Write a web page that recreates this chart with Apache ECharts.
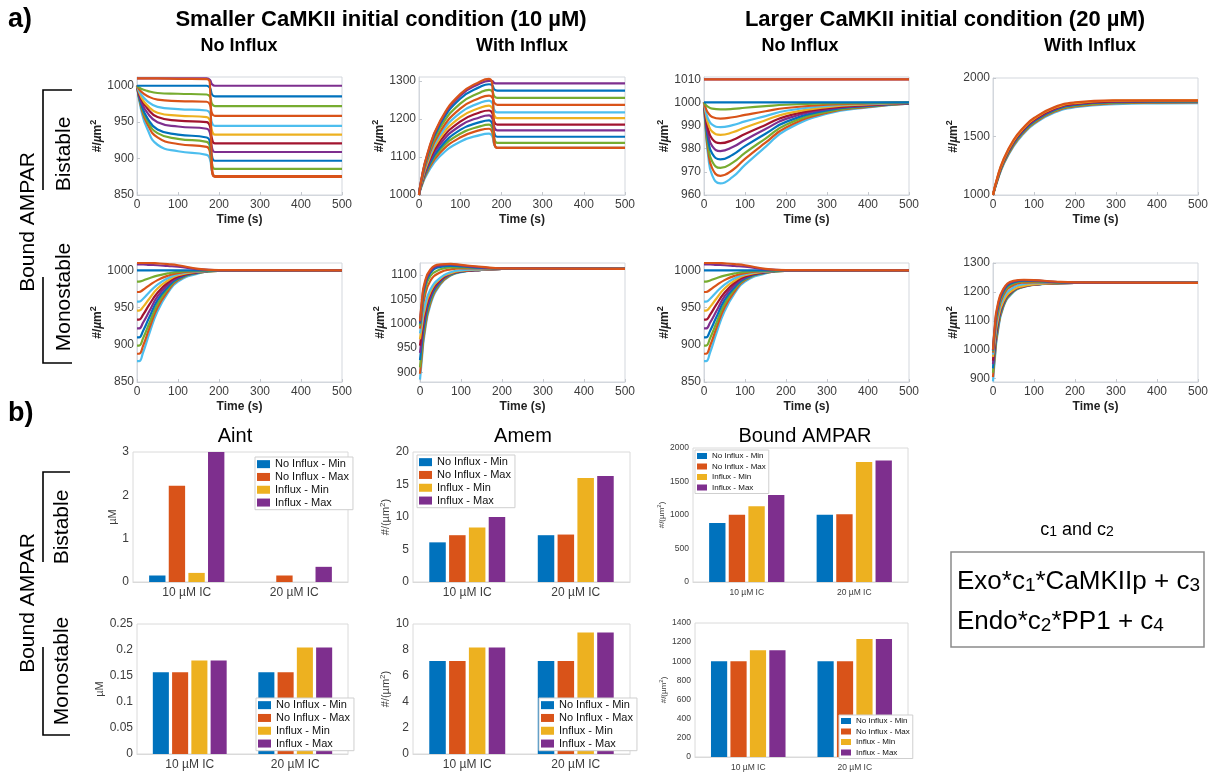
<!DOCTYPE html>
<html>
<head>
<meta charset="utf-8">
<script src="https://cdn.jsdelivr.net/npm/echarts@6/dist/echarts.min.js"></script>
<style>
  html, body { margin: 0; padding: 0; background: #ffffff; }
  #chart { width: 1215px; height: 775px; }
</style>
</head>
<body>
<div id="chart"></div>
<script>
// ---------------------------------------------------------------
// Time courses of bound AMPAR (#/µm²); time in seconds
// ---------------------------------------------------------------

// Bistable, 10 µM CaMKII, no influx
const tBiNoInflux10 = [0, 10, 25, 50, 100, 170, 178, 183, 190, 500];
const yBiNoInflux10 = [
  [1000, 967, 941, 919, 910, 905, 899, 882, 876, 876],
  [1000, 971, 948, 929, 920, 916, 908, 883, 875, 875],
  [1000, 973, 952, 935, 927, 923, 916, 893, 886, 886],
  [1000, 975, 956, 940, 933, 929, 923, 903, 897, 897],
  [1000, 979, 963, 950, 944, 941, 935, 915, 909, 909],
  [1000, 982, 969, 957, 952, 950, 944, 927, 921, 921],
  [1000, 985, 973, 963, 959, 957, 952, 938, 933, 933],
  [1000, 988, 979, 971, 968, 966, 962, 949, 945, 945],
  [1000, 992, 986, 981, 979, 978, 974, 962, 958.5, 958.5],
  [1000, 996, 993, 990, 989, 988, 985, 975, 972, 972],
  [1000, 1000, 1000, 1000, 1000, 1000, 997, 988, 985.5, 985.5],
  [1010, 1010, 1010, 1010, 1010, 1010, 1008, 1002, 1000, 1000],
  [1010, 1010, 1010, 1010, 1009.5, 1009, 1000, 890, 876, 876]
];

// Bistable, 10 µM CaMKII, with influx
const tBiInflux10 = [0, 5, 20, 50, 100, 150, 170, 178, 183, 190, 500];
const yBiInflux10 = [
  [1000, 1019, 1056, 1101, 1140, 1158, 1161, 1154, 1131, 1124, 1124],
  [1000, 1021, 1061, 1110, 1151, 1171, 1174, 1164, 1134, 1124, 1124],
  [1000, 1022, 1065, 1117, 1161, 1181, 1185, 1175, 1147, 1137, 1137],
  [1000, 1024, 1069, 1123, 1171, 1192, 1196, 1187, 1162, 1153, 1153],
  [1000, 1025, 1073, 1132, 1182, 1205, 1209, 1201, 1178, 1170, 1170],
  [1000, 1027, 1078, 1140, 1193, 1218, 1222, 1215, 1192, 1185, 1185],
  [1000, 1028, 1082, 1148, 1204, 1230, 1235, 1228, 1209, 1202, 1202],
  [1000, 1030, 1087, 1156, 1216, 1243, 1248, 1242, 1223, 1217, 1217],
  [1000, 1031, 1091, 1164, 1227, 1256, 1261, 1256, 1242, 1237, 1237],
  [1000, 1033, 1097, 1174, 1240, 1270, 1276, 1272, 1259, 1255, 1255],
  [1000, 1035, 1102, 1183, 1253, 1285, 1291, 1288, 1277, 1274, 1274],
  [1000, 1036, 1105, 1189, 1261, 1294, 1300, 1299, 1294, 1293, 1293],
  [1000, 1037, 1107, 1192, 1265, 1299, 1305, 1290, 1140, 1124, 1124]
];

// Bistable, 20 µM CaMKII, no influx
const tBiNoInflux20 = [0, 5, 10, 20, 40, 70, 100, 150, 200, 300, 400, 500];
const yBiNoInflux20 = [
  [1000, 986, 977.3, 968.5, 965, 967.8, 973, 980.8, 988.1, 995.1, 997.9, 999.5],
  [1000, 987.3, 979.4, 971.5, 968.3, 970.8, 975.6, 982.6, 989.2, 995.6, 998.1, 999.5],
  [1000, 988.7, 981.6, 974.5, 971.7, 974, 978.2, 984.4, 990.4, 996, 998.3, 999.6],
  [1000, 990.2, 984, 977.9, 975.4, 977.4, 981.1, 986.5, 991.6, 996.6, 998.5, 999.6],
  [1000, 991.6, 986.4, 981.1, 979, 980.7, 983.8, 988.5, 992.9, 997.1, 998.7, 999.7],
  [1000, 993, 988.6, 984.2, 982.4, 983.8, 986.4, 990.3, 994, 997.5, 998.9, 999.7],
  [1000, 994.4, 990.9, 987.4, 986, 987.1, 989.2, 992.3, 995.2, 998, 999.2, 999.8],
  [1000, 995.7, 993, 990.4, 989.3, 990.2, 991.8, 994.1, 996.4, 998.5, 999.4, 999.8],
  [1000, 997.2, 995.5, 993.7, 993, 993.6, 994.6, 996.2, 997.6, 999, 999.6, 999.9],
  [1000, 998.8, 998.1, 997.3, 997, 997.2, 997.7, 998.4, 999, 999.6, 999.8, 1000],
  [1000, 1000, 1000, 1000, 1000, 1000, 1000, 1000, 1000, 1000, 1000, 1000],
  [1010, 1010, 1010, 1010, 1010, 1010, 1010, 1010, 1010, 1010, 1010, 1010],
  [1010, 1010, 1010, 1010, 1010, 1010, 1010, 1010, 1010, 1010, 1010, 1010]
];

// Bistable, 20 µM CaMKII, with influx
const tBiInflux20 = [0, 10, 25, 50, 75, 100, 150, 200, 300, 400, 500];
const yBiInflux20 = [
  [1000, 1115, 1255, 1415, 1525, 1605, 1705, 1750, 1777, 1783, 1785],
  [1000, 1118, 1262, 1424, 1534, 1614, 1713, 1758, 1784, 1790, 1791],
  [1000, 1122, 1268, 1432, 1542, 1622, 1720, 1764, 1789, 1794, 1795],
  [1000, 1126, 1275, 1440, 1550, 1630, 1727, 1770, 1794, 1798, 1799],
  [1000, 1130, 1281, 1448, 1558, 1637, 1733, 1776, 1798, 1802, 1802],
  [1000, 1134, 1287, 1455, 1565, 1644, 1739, 1781, 1802, 1805, 1805],
  [1000, 1138, 1293, 1462, 1572, 1651, 1745, 1786, 1806, 1808, 1808],
  [1000, 1143, 1300, 1470, 1580, 1658, 1751, 1791, 1809, 1810, 1810]
];

// Monostable, no influx (10 µM and 20 µM runs coincide)
const tMonoNoInflux = [0, 5, 15, 30, 50, 75, 100, 150, 200, 500];
const yMonoNoInflux = [
  [878, 878, 890, 915, 945, 969.5, 985, 996, 999.4, 1000],
  [888, 888, 899, 922, 950, 972, 987, 997, 999.4, 1000],
  [899, 899, 909, 929, 955, 975, 988, 997, 999.5, 1000],
  [910, 910, 919, 937, 960, 977.5, 989, 997.3, 999.6, 1000],
  [922, 922, 930, 945, 965, 980.5, 990.6, 997.7, 999.6, 1000],
  [934, 934, 940.6, 954, 970, 983.5, 992, 998, 999.7, 1000],
  [946, 946, 951, 962, 975.7, 986.5, 993.5, 998.4, 999.7, 1000],
  [958, 958, 962, 970.6, 981, 989.5, 995, 998.7, 999.8, 1000],
  [971, 971, 974, 980, 987, 992.8, 996.5, 999, 999.9, 1000],
  [985, 985, 986.5, 989.5, 993, 996, 998, 999.5, 1000, 1000],
  [1000, 1000, 1000, 1000, 1000, 1000, 1000, 1000, 1000, 1000],
  [1008, 1008, 1008, 1007.5, 1007, 1006, 1005, 1001.5, 1000.2, 1000],
  [1010, 1010, 1010, 1010, 1009.5, 1008.5, 1007, 1002, 1000.3, 1000]
];

// Monostable, 10 µM CaMKII, with influx
const tMonoInflux10 = [0, 5, 10, 25, 50, 75, 100, 150, 200, 500];
const yMonoInflux10 = [
  [885, 931, 972, 1038, 1081, 1099, 1106, 1111, 1113, 1113],
  [897, 940, 979, 1042, 1083, 1100, 1107, 1111, 1113, 1113],
  [910, 951, 987, 1046, 1085, 1101, 1107, 1111, 1113, 1113],
  [925, 963, 996, 1051, 1087, 1102, 1107, 1111, 1113, 1113],
  [940, 975, 1006, 1056, 1089, 1103, 1108, 1111, 1113, 1113],
  [955, 987, 1015, 1061, 1091, 1104, 1108, 1111, 1113, 1113],
  [968, 997, 1023, 1065, 1093, 1104, 1109, 1112, 1113, 1113],
  [980, 1007, 1031, 1070, 1095, 1106, 1110, 1112, 1113, 1113],
  [990, 1022, 1050, 1088, 1106, 1112, 1114, 1114, 1113, 1113],
  [996, 1032, 1062, 1098, 1112, 1116, 1116, 1115, 1113.5, 1113],
  [1000, 1040, 1070, 1104, 1117, 1119, 1118, 1115, 1114, 1113],
  [1003, 1045, 1075, 1108, 1120, 1122, 1120, 1116, 1114, 1113],
  [1006, 1050, 1080, 1111, 1122, 1123, 1121, 1117, 1114, 1113]
];

// Monostable, 20 µM CaMKII, with influx
const tMonoInflux20 = [0, 5, 10, 25, 50, 75, 100, 150, 200, 500];
const yMonoInflux20 = [
  [890, 975, 1044, 1146, 1200, 1217, 1224, 1229, 1231, 1231],
  [905, 987, 1052, 1150, 1202, 1218, 1225, 1229, 1231, 1231],
  [920, 998, 1060, 1153, 1203, 1219, 1225, 1229, 1231, 1231],
  [935, 1009, 1068, 1157, 1204, 1219, 1225, 1230, 1231, 1231],
  [950, 1020, 1077, 1161, 1206, 1220, 1225, 1230, 1231, 1231],
  [962, 1029, 1083, 1164, 1207, 1220, 1226, 1230, 1231, 1231],
  [975, 1039, 1090, 1167, 1208, 1221, 1226, 1230, 1231, 1231],
  [983, 1050, 1100, 1178, 1216, 1227, 1230, 1231, 1231, 1231],
  [990, 1062, 1112, 1188, 1224, 1232, 1233, 1232, 1231, 1231],
  [994, 1070, 1122, 1195, 1229, 1236, 1236, 1233, 1232, 1231],
  [997, 1078, 1131, 1201, 1233, 1239, 1238, 1234, 1232, 1231],
  [999, 1084, 1138, 1206, 1236, 1241, 1240, 1235, 1232, 1231],
  [1000, 1090, 1145, 1210, 1238, 1242, 1241, 1236, 1233, 1231]
];

// y tick labels of the time-course panels
const ticksBiNoInflux10 = [850, 900, 950, 1000];
const ticksBiInflux10 = [1000, 1100, 1200, 1300];
const ticksBiNoInflux20 = [960, 970, 980, 990, 1000, 1010];
const ticksBiInflux20 = [1000, 1500, 2000];
const ticksMonoNoInflux = [850, 900, 950, 1000];
const ticksMonoInflux10 = [900, 950, 1000, 1050, 1100];
const ticksMonoInflux20 = [900, 1000, 1100, 1200, 1300];
const timeTicks = [0, 100, 200, 300, 400, 500];

// ---------------------------------------------------------------
// Steady-state summaries (rows: series, columns: groups)
// ---------------------------------------------------------------
const barGroups = ['10 \u00b5M IC', '20 \u00b5M IC'];
const barSeriesNames = ['No Influx - Min', 'No Influx - Max', 'Influx - Min', 'Influx - Max'];
const aintBistable = [[0.15, 0], [2.22, 0.15], [0.21, 0], [3.0, 0.35]];
const amemBistable = [[6.1, 7.2], [7.2, 7.3], [8.4, 16.0], [10.0, 16.3]];
const boundBistable = [[880, 1005], [1005, 1012], [1130, 1790], [1300, 1815]];
const aintMonostable = [[0.157, 0.157], [0.157, 0.157], [0.18, 0.205], [0.18, 0.205]];
const amemMonostable = [[7.15, 7.15], [7.15, 7.15], [8.2, 9.35], [8.2, 9.35]];
const boundMonostable = [[1000, 1000], [1000, 1000], [1115, 1232], [1115, 1232]];

// ---------------------------------------------------------------
// Styling
// ---------------------------------------------------------------
const FONT = '"Liberation Sans", Arial, Helvetica, sans-serif';
const PALETTE = {
  blue: '#0072BD', orange: '#D95319', yellow: '#EDB120', purple: '#7E2F8E',
  green: '#77AC30', lblue: '#4DBEEE', dred: '#A2142F'
};
const curveOrder = ['lblue', 'orange', 'green', 'blue', 'purple', 'dred', 'yellow',
                    'lblue', 'orange', 'green', 'blue', 'purple', 'orange'];
const curveOrderShort = ['lblue', 'orange', 'green', 'blue', 'purple', 'dred', 'yellow', 'orange'];
const barColors = [PALETTE.blue, PALETTE.orange, PALETTE.yellow, PALETTE.purple];
const FRAME = '#d3d7dd';
const TICKTXT = '#3c3c3c';

const option = {
  backgroundColor: '#ffffff',
  animation: false,
  textStyle: { fontFamily: FONT },
  grid: [], xAxis: [], yAxis: [], series: [], legend: [],
  graphic: { elements: [] }
};

const unitName = '#/{mu|\u00b5}m{sup|2}';
const plainNum = v => String(v);

function addLinePanel(box, t, curves, colors, yMin, yMax, yTicks) {
  const i = option.grid.length;
  option.grid.push({
    left: box[0], top: box[1], width: box[2], height: box[3],
    show: true, borderColor: FRAME, borderWidth: 1
  });
  option.xAxis.push({
    gridIndex: i, type: 'value', min: 0, max: 500, interval: 100,
    name: 'Time (s)', nameLocation: 'middle', nameGap: 19,
    nameTextStyle: { fontFamily: FONT, fontWeight: 'bold', fontSize: 12, color: '#222' },
    axisLine: { lineStyle: { color: FRAME } },
    axisTick: { inside: true, length: 3, lineStyle: { color: '#c4c8ce' } },
    axisLabel: { fontFamily: FONT, fontSize: 12, color: TICKTXT, margin: 4,
                 customValues: timeTicks, formatter: plainNum },
    splitLine: { show: false }
  });
  option.yAxis.push({
    gridIndex: i, type: 'value', min: yMin, max: yMax,
    name: unitName, nameLocation: 'middle', nameGap: 31,
    nameTextStyle: {
      fontFamily: FONT, fontWeight: 'bold', fontSize: 12, color: '#222',
      rich: {
        mu: { fontFamily: FONT, fontSize: 12, fontStyle: 'italic', color: '#222' },
        sup: { fontFamily: FONT, fontSize: 9, fontWeight: 'bold', color: '#222', padding: [0, 0, 7, 0] }
      }
    },
    axisLine: { lineStyle: { color: FRAME } },
    axisTick: { inside: true, length: 3, customValues: yTicks, lineStyle: { color: '#c4c8ce' } },
    axisLabel: { fontFamily: FONT, fontSize: 12, color: TICKTXT, margin: 3,
                 customValues: yTicks, formatter: plainNum },
    splitLine: { show: false }
  });
  curves.forEach((c, j) => {
    const col = PALETTE[colors[j]];
    option.series.push({
      type: 'line', xAxisIndex: i, yAxisIndex: i,
      data: t.map((tt, k) => [tt, c[k]]),
      showSymbol: false, symbol: 'none', smooth: 0.5,
      lineStyle: { width: 2.2, color: col }, itemStyle: { color: col },
      silent: true, clip: true, z: 2
    });
  });
}

function addBarPanel(box, values, yMax, yInterval, fmt, yName, yNameGap, small, legendBox) {
  const i = option.grid.length;
  const fs = small ? 8.5 : 12;
  option.grid.push({
    left: box[0], top: box[1], width: box[2], height: box[3],
    show: true, borderColor: '#dadada', borderWidth: 1
  });
  option.xAxis.push({
    gridIndex: i, type: 'category', data: barGroups,
    axisLine: { lineStyle: { color: '#dadada' } },
    axisTick: { show: false },
    axisLabel: { fontFamily: FONT, fontSize: fs, color: TICKTXT, margin: small ? 6 : 5 },
    splitLine: { show: false }
  });
  option.yAxis.push({
    gridIndex: i, type: 'value', min: 0, max: yMax, interval: yInterval,
    name: yName, nameLocation: 'middle', nameGap: yNameGap,
    nameTextStyle: {
      fontFamily: FONT, fontSize: small ? 8 : 11, color: TICKTXT,
      rich: { sup: { fontFamily: FONT, fontSize: small ? 6 : 8, color: TICKTXT, padding: [0, 0, small ? 5 : 6, 0] } }
    },
    axisLine: { lineStyle: { color: '#dadada' } },
    axisTick: { inside: true, length: 3, lineStyle: { color: '#cfcfcf' } },
    axisLabel: { fontFamily: FONT, fontSize: fs, color: TICKTXT, margin: 4, formatter: fmt },
    splitLine: { show: false }
  });
  values.forEach((v, j) => {
    option.series.push({
      type: 'bar', name: barSeriesNames[j], xAxisIndex: i, yAxisIndex: i, data: v,
      barGap: '20%', barCategoryGap: '30%',
      itemStyle: { color: barColors[j] }, silent: true, z: 2
    });
  });
  option.legend.push({
    data: barSeriesNames, orient: 'vertical', left: legendBox[0], top: legendBox[1],
    icon: 'rect', itemWidth: small ? 10 : 13, itemHeight: small ? 6 : 8,
    itemGap: 0.5, itemTextGap: 1,
    textStyle: { fontFamily: FONT, fontSize: small ? 8 : 11, lineHeight: small ? 10 : 12.3, color: '#111' },
    backgroundColor: '#ffffff', borderColor: '#cfcfcf', borderWidth: 1,
    padding: small ? [1, 3, 1, 2] : [1, 4, 1, 2], selectedMode: false, z: 10
  });
}

// a) time courses
addLinePanel([137, 77, 205, 118], tBiNoInflux10, yBiNoInflux10, curveOrder, 850, 1012, ticksBiNoInflux10);
addLinePanel([419, 77, 206, 118], tBiInflux10, yBiInflux10, curveOrder, 1000, 1310, ticksBiInflux10);
addLinePanel([704, 77, 205, 118], tBiNoInflux20, yBiNoInflux20, curveOrder, 960, 1011, ticksBiNoInflux20);
addLinePanel([993, 78, 205, 117], tBiInflux20, yBiInflux20, curveOrderShort, 1000, 2000, ticksBiInflux20);
addLinePanel([137, 263, 205, 119], tMonoNoInflux, yMonoNoInflux, curveOrder, 850, 1010, ticksMonoNoInflux);
addLinePanel([420, 263, 205, 119], tMonoInflux10, yMonoInflux10, curveOrder, 880, 1125, ticksMonoInflux10);
addLinePanel([704, 263, 205, 119], tMonoNoInflux, yMonoNoInflux, curveOrder, 850, 1010, ticksMonoNoInflux);
addLinePanel([993, 263, 205, 119], tMonoInflux20, yMonoInflux20, curveOrder, 888, 1300, ticksMonoInflux20);

// b) steady-state bars
const fmt2 = v => String(parseFloat(v.toFixed(2)));
const amemName = '#/(\u00b5m{sup|2})';
addBarPanel([133, 452, 215, 130], aintBistable, 3, 1, plainNum, '\u00b5M', 9, false, [255, 457]);
addBarPanel([413, 452, 217, 130], amemBistable, 20, 5, plainNum, amemName, 14, false, [417, 455]);
addBarPanel([693, 448, 215, 134], boundBistable, 2000, 500, plainNum, amemName, 23, true, [695, 450]);
addBarPanel([137, 624, 211, 130], aintMonostable, 0.25, 0.05, fmt2, '\u00b5M', 30, false, [256, 698]);
addBarPanel([413, 624, 217, 130], amemMonostable, 10, 2, plainNum, amemName, 14, false, [539, 698]);
addBarPanel([695, 623, 213, 134], boundMonostable, 1400, 200, plainNum, amemName, 25, true, [839, 715]);

// free text, brackets and the equation box
function txt(x, y, text, size, o) {
  o = o || {};
  return {
    type: 'text', x: x, y: y, rotation: o.rot || 0, z: 30,
    style: {
      text: text, fontFamily: FONT, fontSize: size, fontWeight: o.bold ? 'bold' : 'normal',
      fill: '#000', textAlign: o.align || 'center', textVerticalAlign: 'middle',
      align: o.align || 'center', verticalAlign: 'middle', rich: o.rich
    }
  };
}
function bracket(points) {
  return { type: 'polyline', z: 20, shape: { points: points },
           style: { stroke: '#000', lineWidth: 1.6, fill: null } };
}
const subRich = { s: { fontFamily: FONT, fontSize: 14, verticalAlign: 'bottom', padding: [4, 0, 0, 0] } };
const subRichBig = { s: { fontFamily: FONT, fontSize: 19, verticalAlign: 'bottom', padding: [6, 0, 0, 0] } };

option.graphic.elements.push(
  txt(8, 20, 'a)', 27, { bold: true, align: 'left' }),
  txt(381, 20, 'Smaller CaMKII initial condition (10 \u00b5M)', 22, { bold: true }),
  txt(945, 20, 'Larger CaMKII initial condition (20 \u00b5M)', 22, { bold: true }),
  txt(239, 46, 'No Influx', 18, { bold: true }),
  txt(522, 46, 'With Influx', 18, { bold: true }),
  txt(800, 46, 'No Influx', 18, { bold: true }),
  txt(1090, 46, 'With Influx', 18, { bold: true }),
  txt(28, 222, 'Bound AMPAR', 21, { rot: Math.PI / 2 }),
  txt(64, 154, 'Bistable', 21, { rot: Math.PI / 2 }),
  txt(64, 297, 'Monostable', 21, { rot: Math.PI / 2 }),
  bracket([[72, 90], [43, 90], [43, 190]]),
  bracket([[43, 277], [43, 363], [72, 363]]),

  txt(8, 414, 'b)', 27, { bold: true, align: 'left' }),
  txt(235, 436, 'Aint', 20),
  txt(523, 436, 'Amem', 20),
  txt(805, 436, 'Bound AMPAR', 20),
  txt(28, 603, 'Bound AMPAR', 21, { rot: Math.PI / 2 }),
  txt(62, 527, 'Bistable', 21, { rot: Math.PI / 2 }),
  txt(62, 671, 'Monostable', 21, { rot: Math.PI / 2 }),
  bracket([[70, 472], [43, 472], [43, 562]]),
  bracket([[43, 647], [43, 735], [70, 735]]),

  txt(1077, 530, 'c{s|1} and c{s|2}', 18, { rich: subRich }),
  { type: 'rect', z: 20, shape: { x: 951, y: 552, width: 253, height: 95 },
    style: { fill: '#ffffff', stroke: '#8a8a8a', lineWidth: 1.5 } },
  txt(957, 582, 'Exo*c{s|1}*CaMKIIp + c{s|3}', 26, { align: 'left', rich: subRichBig }),
  txt(957, 622, 'Endo*c{s|2}*PP1 + c{s|4}', 26, { align: 'left', rich: subRichBig })
);

const chart = echarts.init(document.getElementById('chart'), null, { renderer: 'canvas' });
chart.setOption(option);
</script>
</body>
</html>
